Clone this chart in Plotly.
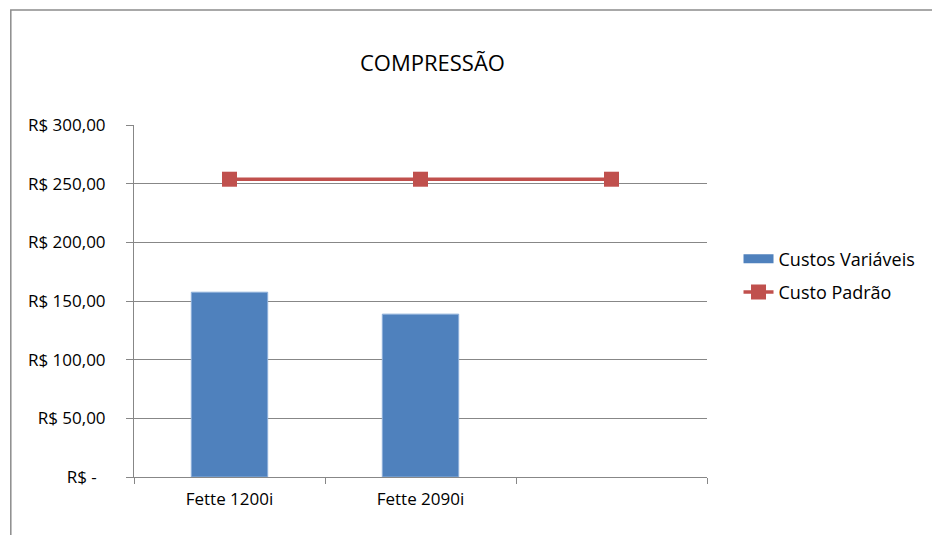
import plotly.graph_objects as go

categories = ["Fette 1200i", "Fette 2090i", " "]
custos_variaveis = [157.5, 138.8, None]
custo_padrao = [253.8, 253.8, 253.8]
y_tickvals = [0, 50, 100, 150, 200, 250, 300]
y_ticktext = ["R$ -  ", "R$ 50,00", "R$ 100,00", "R$ 150,00", "R$ 200,00", "R$ 250,00", "R$ 300,00"]

FONT = "Open Sans"
GRID = "#878787"
BLUE = "#4F81BD"
RED = "#C0504D"

fig = go.Figure()
fig.add_trace(go.Bar(
    x=categories, y=custos_variaveis, name="Custos Variáveis",
    marker=dict(color=BLUE, line=dict(color="#8EB0DA", width=1)),
    showlegend=False,
))
# legend entry for the bar series (wide thin swatch like the original)
fig.add_trace(go.Scatter(
    x=[categories[0]], y=[None], name="Custos Variáveis", mode="lines",
    line=dict(color=BLUE, width=9), legendgroup="a", showlegend=True,
    hoverinfo="skip",
))
fig.add_trace(go.Scatter(
    x=categories, y=custo_padrao, name="Custo Padrão", mode="lines+markers",
    line=dict(color=RED, width=3.5),
    marker=dict(symbol="square", size=15, color=RED),
    legendgroup="b",
))

fig.update_layout(
    width=932, height=535,
    margin=dict(l=134, r=225, t=125, b=58),
    paper_bgcolor="white", plot_bgcolor="white",
    font=dict(family=FONT, size=17, color="black"),
    title=dict(text="COMPRESSÃO", x=0.464, xanchor="center", y=0.881, yanchor="middle",
               font=dict(family=FONT, size=22, color="black")),
    bargap=0.6,
    showlegend=True,
    legend=dict(x=1.055, xanchor="left", y=0.672, yanchor="top",
                font=dict(family=FONT, size=18, color="black"),
                tracegroupgap=7, bgcolor="rgba(0,0,0,0)"),
    shapes=[dict(type="rect", xref="paper", yref="paper",
                 x0=-0.215, x1=1.5, y0=-0.5, y1=1.327,
                 line=dict(color="#8c8c8c", width=1.5), layer="below")],
)
fig.update_xaxes(
    type="category", tickson="boundaries", ticks="outside", ticklen=6,
    tickcolor=GRID, showline=True, linecolor=GRID, linewidth=1,
    showgrid=False, tickfont=dict(family=FONT, size=17, color="black"),
    ticklabelstandoff=7,
)
fig.update_yaxes(
    range=[0, 300], tickvals=y_tickvals, ticktext=y_ticktext,
    ticks="outside", ticklen=7, tickcolor=GRID,
    showline=True, linecolor=GRID, linewidth=1,
    showgrid=True, gridcolor=GRID, gridwidth=1, zeroline=False,
    tickfont=dict(family=FONT, size=17, color="black"),
    ticklabelstandoff=17,
)

fig.write_html("out.html")
